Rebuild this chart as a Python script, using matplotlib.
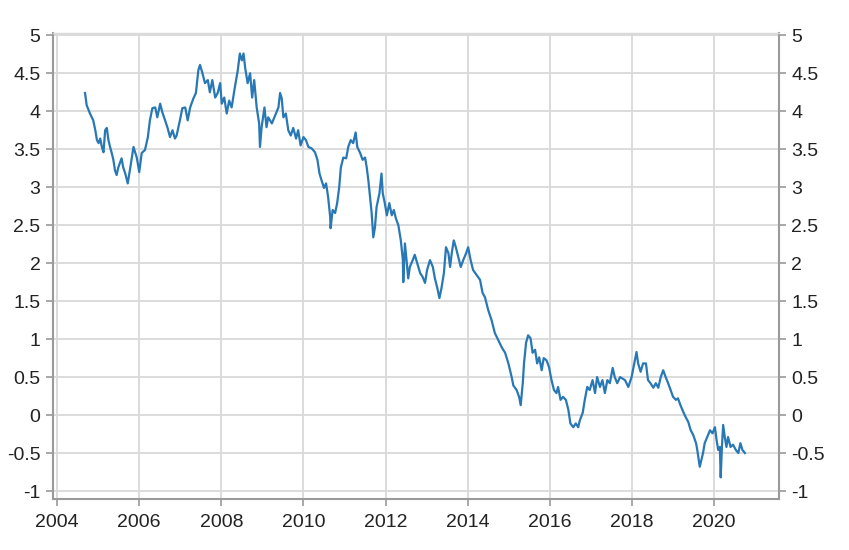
import matplotlib
matplotlib.use("Agg")
import matplotlib.pyplot as plt

years = [
    2004.68, 2004.72, 2004.80, 2004.88, 2004.93, 2004.97, 2005.01, 2005.05, 2005.09, 2005.13,
    2005.17, 2005.21, 2005.25, 2005.29, 2005.33, 2005.37, 2005.41, 2005.45, 2005.49, 2005.57,
    2005.61, 2005.66, 2005.72, 2005.78, 2005.86, 2005.94, 2006.00, 2006.06, 2006.14, 2006.21,
    2006.26, 2006.32, 2006.39, 2006.44, 2006.51, 2006.56, 2006.63, 2006.69, 2006.75, 2006.81,
    2006.87, 2006.91, 2006.99, 2007.05, 2007.12, 2007.18, 2007.24, 2007.32, 2007.38, 2007.44,
    2007.48, 2007.54, 2007.60, 2007.67, 2007.72, 2007.78, 2007.85, 2007.91, 2007.97, 2008.01,
    2008.07, 2008.13, 2008.19, 2008.25, 2008.33, 2008.40, 2008.45, 2008.50, 2008.54, 2008.58,
    2008.64, 2008.70, 2008.75, 2008.80, 2008.86, 2008.92, 2008.94, 2008.98, 2009.05, 2009.10,
    2009.14, 2009.23, 2009.29, 2009.33, 2009.39, 2009.43, 2009.47, 2009.51, 2009.57, 2009.63,
    2009.69, 2009.75, 2009.82, 2009.87, 2009.93, 2010.00, 2010.06, 2010.12, 2010.20, 2010.28,
    2010.34, 2010.39, 2010.44, 2010.50, 2010.55, 2010.60, 2010.65, 2010.66, 2010.71, 2010.77,
    2010.82, 2010.87, 2010.91, 2010.97, 2011.04, 2011.09, 2011.15, 2011.21, 2011.27, 2011.31,
    2011.38, 2011.44, 2011.50, 2011.54, 2011.58, 2011.62, 2011.66, 2011.70, 2011.74, 2011.78,
    2011.85, 2011.90, 2011.93, 2011.98, 2012.03, 2012.09, 2012.15, 2012.20, 2012.25, 2012.31,
    2012.37, 2012.42, 2012.43, 2012.47, 2012.51, 2012.55, 2012.59, 2012.66, 2012.71, 2012.77,
    2012.84, 2012.90, 2012.96, 2013.01, 2013.08, 2013.15, 2013.20, 2013.26, 2013.31, 2013.36,
    2013.42, 2013.47, 2013.53, 2013.57, 2013.61, 2013.66, 2013.71, 2013.77, 2013.83, 2013.89,
    2013.96, 2014.01, 2014.07, 2014.13, 2014.22, 2014.30, 2014.36, 2014.42, 2014.50, 2014.58,
    2014.66, 2014.74, 2014.83, 2014.91, 2014.99, 2015.07, 2015.11, 2015.19, 2015.25, 2015.29,
    2015.34, 2015.37, 2015.42, 2015.47, 2015.53, 2015.58, 2015.64, 2015.69, 2015.74, 2015.80,
    2015.85, 2015.92, 2015.98, 2016.04, 2016.10, 2016.16, 2016.20, 2016.26, 2016.32, 2016.39,
    2016.45, 2016.50, 2016.57, 2016.63, 2016.69, 2016.73, 2016.80, 2016.85, 2016.91, 2016.97,
    2017.04, 2017.10, 2017.15, 2017.22, 2017.28, 2017.34, 2017.40, 2017.46, 2017.53, 2017.58,
    2017.64, 2017.71, 2017.83, 2017.91, 2017.99, 2018.07, 2018.11, 2018.15, 2018.21, 2018.27,
    2018.34, 2018.39, 2018.45, 2018.52, 2018.58, 2018.64, 2018.70, 2018.76, 2018.82, 2018.88,
    2018.94, 2019.00, 2019.07, 2019.12, 2019.18, 2019.25, 2019.31, 2019.37, 2019.43, 2019.49,
    2019.56, 2019.59, 2019.62, 2019.65, 2019.69, 2019.73, 2019.77, 2019.83, 2019.90, 2019.96,
    2020.02, 2020.06, 2020.10, 2020.14, 2020.16, 2020.19, 2020.22, 2020.26, 2020.30, 2020.34,
    2020.40, 2020.46, 2020.53, 2020.59, 2020.64, 2020.69, 2020.75,
]

values = [
    4.24, 4.08, 3.97, 3.88, 3.75, 3.62, 3.58, 3.64, 3.53, 3.46,
    3.75, 3.78, 3.62, 3.53, 3.45, 3.36, 3.22, 3.16, 3.26, 3.38,
    3.26, 3.18, 3.05, 3.25, 3.53, 3.39, 3.20, 3.45, 3.49, 3.66,
    3.88, 4.04, 4.05, 3.92, 4.10, 3.99, 3.88, 3.78, 3.66, 3.75,
    3.64, 3.68, 3.88, 4.04, 4.05, 3.88, 4.05, 4.17, 4.24, 4.54,
    4.61, 4.50, 4.37, 4.41, 4.25, 4.41, 4.18, 4.24, 4.37, 4.10,
    4.18, 3.97, 4.14, 4.05, 4.32, 4.54, 4.76, 4.67, 4.76, 4.57,
    4.37, 4.50, 4.18, 4.41, 4.05, 3.84, 3.53, 3.79, 4.05, 3.79,
    3.92, 3.84, 3.92, 3.97, 4.05, 4.24, 4.17, 3.92, 3.97, 3.75,
    3.68, 3.78, 3.64, 3.75, 3.55, 3.66, 3.62, 3.53, 3.51, 3.46,
    3.36, 3.18, 3.09, 2.99, 3.05, 2.87, 2.61, 2.46, 2.70, 2.66,
    2.79, 3.00, 3.26, 3.39, 3.38, 3.53, 3.62, 3.58, 3.72, 3.53,
    3.45, 3.36, 3.39, 3.26, 3.09, 2.87, 2.66, 2.34, 2.47, 2.74,
    2.92, 3.18, 2.92, 2.79, 2.63, 2.79, 2.63, 2.70, 2.59, 2.50,
    2.30, 2.04, 1.75, 2.26, 2.04, 1.80, 1.95, 2.04, 2.11, 2.00,
    1.87, 1.82, 1.74, 1.91, 2.04, 1.95, 1.80, 1.67, 1.54, 1.67,
    1.87, 2.21, 2.13, 1.95, 2.13, 2.30, 2.21, 2.08, 1.95, 2.04,
    2.13, 2.21, 2.04, 1.91, 1.84, 1.78, 1.61, 1.55, 1.38, 1.25,
    1.08, 0.99, 0.89, 0.82, 0.68, 0.50, 0.39, 0.33, 0.24, 0.13,
    0.42, 0.68, 0.95, 1.05, 1.01, 0.82, 0.86, 0.68, 0.76, 0.59,
    0.75, 0.72, 0.63, 0.46, 0.33, 0.29, 0.37, 0.20, 0.24, 0.20,
    0.07, -0.11, -0.16, -0.11, -0.16, -0.07, 0.03, 0.20, 0.37, 0.33,
    0.46, 0.29, 0.50, 0.37, 0.46, 0.29, 0.46, 0.42, 0.62, 0.50,
    0.42, 0.50, 0.46, 0.37, 0.50, 0.72, 0.83, 0.68, 0.57, 0.68,
    0.68, 0.46, 0.42, 0.36, 0.42, 0.36, 0.50, 0.59, 0.50, 0.42,
    0.33, 0.24, 0.20, 0.22, 0.13, 0.04, -0.03, -0.09, -0.20, -0.26,
    -0.37, -0.46, -0.57, -0.68, -0.59, -0.50, -0.37, -0.29, -0.20, -0.24,
    -0.16, -0.33, -0.46, -0.42, -0.82, -0.42, -0.13, -0.29, -0.42, -0.29,
    -0.42, -0.39, -0.46, -0.50, -0.37, -0.46, -0.50,
]

x_ticks = [2004, 2006, 2008, 2010, 2012, 2014, 2016, 2018, 2020]
x_tick_labels = ["2004", "2006", "2008", "2010", "2012", "2014", "2016", "2018", "2020"]
y_ticks = [-1, -0.5, 0, 0.5, 1, 1.5, 2, 2.5, 3, 3.5, 4, 4.5, 5]
y_tick_labels = ["-1", "-0.5", "0", "0.5", "1", "1.5", "2", "2.5", "3", "3.5", "4", "4.5", "5"]

plt.rcParams["font.family"] = ["Liberation Sans", "DejaVu Sans"]

fig = plt.figure(figsize=(8.49, 5.5), dpi=100)
ax = fig.add_axes([53 / 849, 1 - 499 / 550, (779 - 53) / 849, (499 - 33) / 550])

ax.plot(years, values, color="#2878b5", linewidth=1.6, zorder=3)

ax.set_xlim(2003.90, 2021.58)
ax.set_ylim(-1.105, 5.03)

ax.set_xticks(x_ticks)
ax.set_xticklabels(x_tick_labels)
ax.set_yticks(y_ticks)
ax.set_yticklabels(y_tick_labels)

ax.grid(True, color="#d9d9d9", linewidth=1.3, zorder=0)
ax.set_axisbelow(True)

spine_col = "#9a9a9a"
ax.spines["top"].set_color("#d9d9d9")
ax.spines["top"].set_linewidth(1.0)
for side in ["left", "right", "bottom"]:
    ax.spines[side].set_color(spine_col)
    ax.spines[side].set_linewidth(1.5)

ax.tick_params(axis="both", which="both", direction="out", length=5, width=1.2,
               color=spine_col, labelsize=14, labelcolor="#222222", pad=4)
ax.tick_params(axis="y", left=True, right=True, labelleft=True, labelright=True)
ax.tick_params(axis="x", pad=6)

fig.savefig("out.png", dpi=100)
